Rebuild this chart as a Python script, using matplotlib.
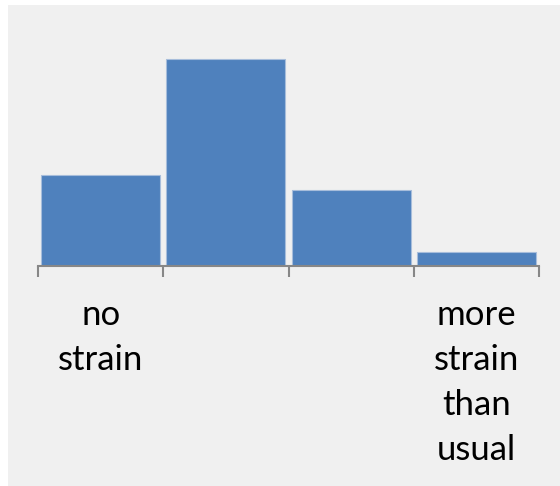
"""
Distribution of reported strain, four-level scale.
Saves out.png
"""
import matplotlib
matplotlib.use("Agg")
import matplotlib.pyplot as plt
from matplotlib.patches import Rectangle

# share of responses per level (%)
LEVELS = ["no strain", "", "", "more strain than usual"]
SHARES = [23.5, 53.3, 19.6, 3.6]
LABELS = ["no\nstrain", "", "", "more\nstrain\nthan\nusual"]

BAR_COLOR  = "#4f81bd"
EDGE_COLOR = "#a7bddb"
AXIS_COLOR = "#878787"
BG_COLOR   = "#f0f0f0"

plt.rcParams.update({"font.family": ["Lato", "DejaVu Sans"]})

W, H = 560, 486
fig = plt.figure(figsize=(W / 100, H / 100), dpi=100, facecolor="white")
fig.patches.append(Rectangle((8 / W, 0), 1 - 8 / W, 1 - 5 / H,
                             transform=fig.transFigure, facecolor=BG_COLOR,
                             edgecolor="none", zorder=-10))

base_y, top_y = 266, 40
ax = fig.add_axes([38 / W, (H - base_y) / H, (539 - 38) / W, (base_y - top_y) / H])
ax.patch.set_visible(False)

x = [i + 0.5 for i in range(len(SHARES))]
ax.bar(x, SHARES, width=0.95, color=BAR_COLOR, edgecolor=EDGE_COLOR, linewidth=0.8)

ax.set_xlim(0, len(SHARES))
ax.set_ylim(0, max(SHARES) * (base_y - top_y) / 207)

for s in ("top", "right", "left"):
    ax.spines[s].set_visible(False)
ax.spines["bottom"].set_color(AXIS_COLOR)
ax.spines["bottom"].set_linewidth(1.5)
ax.set_yticks([])
ax.set_xticks(range(len(SHARES) + 1))
ax.set_xticklabels([])
ax.tick_params(axis="x", direction="out", length=8, width=1.5, color=AXIS_COLOR)

for xi, lab in zip(x, LABELS):
    if lab:
        ax.annotate(lab, xy=(xi, 0), xycoords="data", xytext=(0, -33),
                    textcoords="offset pixels", ha="center", va="top",
                    fontsize=25, linespacing=1.5, color="black")

fig.savefig("out.png", dpi=100, facecolor=fig.get_facecolor())
